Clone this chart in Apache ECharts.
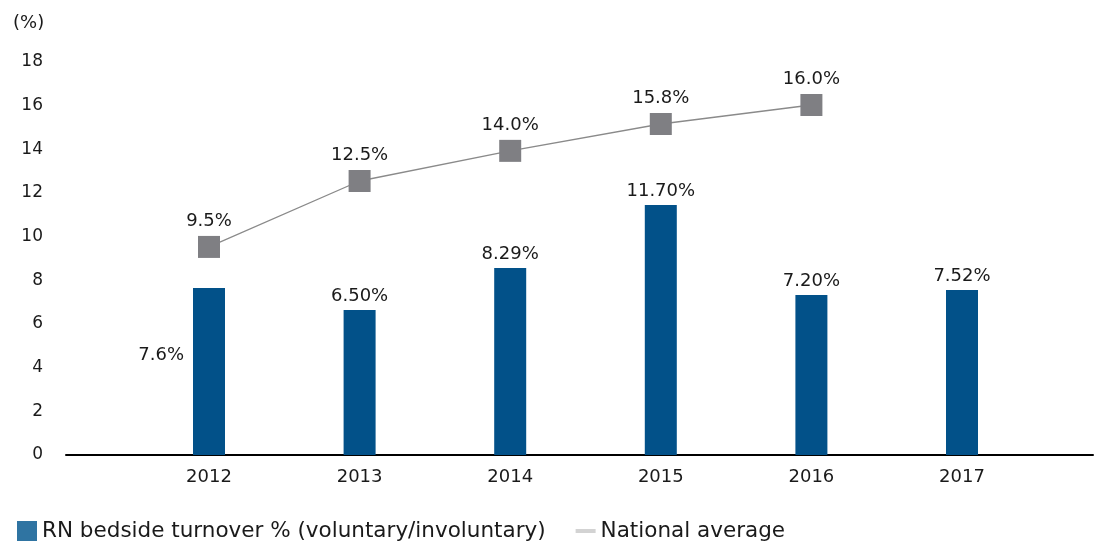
<!DOCTYPE html>
<html><head><meta charset="utf-8">
<script src="https://cdn.jsdelivr.net/npm/echarts@6/dist/echarts.min.js"></script>
<style>html,body{margin:0;padding:0;background:#fff}#c{width:1104px;height:543px}</style>
</head><body><div id="c"></div>
<script>
const categories = ['2012','2013','2014','2015','2016','2017'];
const barValues = [7.65, 6.64, 8.57, 11.45, 7.33, 7.56];
const barLabels = ['7.6%','6.50%','8.29%','11.70%','7.20%','7.52%'];
const lineValues = [9.53, 12.55, 13.93, 15.16, 16.03, null];
const lineLabels = ['9.5%','12.5%','14.0%','15.8%','16.0%',''];
const yTicks = [0,2,4,6,8,10,12,14,16,18];

const FONT = 'DejaVu Sans';
const TXT = '#1a1a1a';
const chart = echarts.init(document.getElementById('c'));
chart.setOption({
  animation: false,
  textStyle: {fontFamily: FONT, color: TXT},
  title: {text: '(%)', left: 8, top: 9, textStyle: {fontFamily: FONT, fontSize: 18, fontWeight: 'normal', color: TXT}},
  grid: [
    {left: 133.7, right: 66.7, top: 62, bottom: 88},
    {left: 66, right: 11, top: 62, bottom: 88}
  ],
  xAxis: [
    {type: 'category', gridIndex: 0, data: categories, axisLine: {show: false}, axisTick: {show: false},
     axisLabel: {fontFamily: FONT, fontSize: 18, color: TXT, margin: 13}},
    {type: 'value', gridIndex: 1, min: 0, max: 1, axisLine: {show: true, lineStyle: {color: '#000', width: 2}},
     axisTick: {show: false}, axisLabel: {show: false}, splitLine: {show: false}}
  ],
  yAxis: [
    {type: 'value', gridIndex: 0, min: 0, max: 18, interval: 2, show: false},
    {type: 'value', gridIndex: 1, min: 0, max: 18, interval: 2, axisLine: {show: false}, axisTick: {show: false},
     splitLine: {show: false}, axisLabel: {fontFamily: FONT, fontSize: 17, color: TXT, margin: 23,
       formatter: v => yTicks.includes(v) ? String(v) : ''}}
  ],
  legend: {
    left: 12, top: 515, itemWidth: 20, itemHeight: 20, itemGap: 30,
    textStyle: {fontFamily: FONT, fontSize: 21.5, color: TXT},
    data: [
      {name: 'RN bedside turnover % (voluntary/involuntary)', icon: 'rect', itemStyle: {color: '#2f74a2'}},
      {name: 'National average', icon: 'path://M0,8 L20,8 L20,12 L0,12 Z', itemStyle: {color: '#d3d3d3'}, lineStyle: {opacity: 0}}
    ]
  },
  series: [
    {name: 'RN bedside turnover % (voluntary/involuntary)', type: 'bar', xAxisIndex: 0, yAxisIndex: 0,
     barWidth: 32, itemStyle: {color: '#025189'},
     data: barValues.map((v, i) => ({value: v, label: i === 0 ? {position: 'left', distance: 9, offset: [0, -16]} : {}})),
     label: {show: true, position: 'top', distance: 5, fontFamily: FONT, fontSize: 18, color: TXT,
       formatter: p => barLabels[p.dataIndex]}},
    {name: 'National average', type: 'line', xAxisIndex: 0, yAxisIndex: 0, data: lineValues,
     symbol: 'rect', symbolSize: 22, lineStyle: {color: '#8a8a8a', width: 1.3},
     itemStyle: {color: '#7f7f83'},
     label: {show: true, position: 'top', distance: 6, fontFamily: FONT, fontSize: 18, color: TXT,
       formatter: p => lineLabels[p.dataIndex]}}
  ]
});
</script></body></html>
